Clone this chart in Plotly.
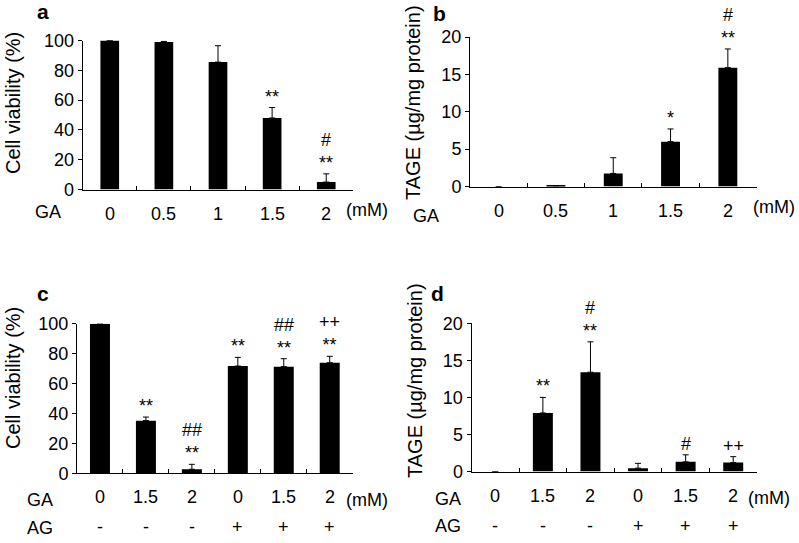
import plotly.graph_objects as go

W, H = 799, 543
FONT = "Liberation Sans, Arial, sans-serif"

# ---------------- data ----------------
ga_ab = ["0", "0.5", "1", "1.5", "2"]
via_a = [100, 99, 85.5, 48, 5]
via_a_err = [0, 0.4, 11, 7, 5.5]
sig_a = ["", "", "", "**", "#<br>**"]

tage_b = [0, 0.1, 1.75, 6.0, 15.9]
tage_b_err = [0, 0, 2.1, 1.7, 2.5]
sig_b = ["", "", "", "*", "#<br>**"]

ga_cd = ["0", "1.5", "2", "0", "1.5", "2"]
ag_cd = ["-", "-", "-", "+", "+", "+"]
via_c = [100, 35.2, 2.7, 71.7, 71.3, 73.9]
via_c_err = [0, 2.4, 3.3, 5.8, 5.3, 4.3]
sig_c = ["", "**", "##<br>**", "**", "##<br>**", "++<br>**"]

tage_d = [0, 7.9, 13.4, 0.45, 1.3, 1.2]
tage_d_err = [0, 2.1, 4.1, 0.65, 0.95, 0.8]
sig_d = ["", "**", "#<br>**", "", "#", "++"]

via_ticks = [0, 20, 40, 60, 80, 100]
tage_ticks = [0, 5, 10, 15, 20]

TICK = 18
SIG = 18


def px(x):
    return x / W


def py(y):
    return 1 - y / H


panels = [
    dict(key="", letter="a", vals=via_a, err=via_a_err, sig=sig_a, ga=ga_ab, ag=None,
         xd=(82.7, 353.3), yd=(189.5, 40.5), yr=100, yt=via_ticks, bw=0.345,
         title="Cell viability (%)", tpos=(13, 103), lpos=(43, 12),
         gapos=(48, 212), mmpos=(390, 210), agpos=None),
    dict(key="2", letter="b", vals=tage_b, err=tage_b_err, sig=sig_b, ga=ga_ab, ag=None,
         xd=(470, 756.5), yd=(186.5, 37), yr=20, yt=tage_ticks, bw=0.33,
         title="TAGE (µg/mg protein)", tpos=(413, 103), lpos=(439, 13),
         gapos=(426, 216), mmpos=(797, 207), agpos=None),
    dict(key="3", letter="c", vals=via_c, err=via_c_err, sig=sig_c, ga=ga_cd, ag=ag_cd,
         xd=(77, 352.7), yd=(473.3, 323.7), yr=100, yt=via_ticks, bw=0.435,
         title="Cell viability (%)", tpos=(13, 378), lpos=(43, 293),
         gapos=(40, 500), mmpos=(390, 500), agpos=(40, 528)),
    dict(key="4", letter="d", vals=tage_d, err=tage_d_err, sig=sig_d, ga=ga_cd, ag=ag_cd,
         xd=(471.5, 757), yd=(471.5, 323.3), yr=20, yt=tage_ticks, bw=0.42,
         title="TAGE (µg/mg protein)", tpos=(415, 380), lpos=(437, 293),
         gapos=(448, 499), mmpos=(792, 498), agpos=(448, 526)),
]

fig = go.Figure()
annotations = []
layout = {}

for p in panels:
    k = p["key"]
    n = len(p["vals"])
    xs = list(range(n))
    fig.add_trace(go.Bar(
        x=xs, y=p["vals"], width=p["bw"],
        marker=dict(color="black", line=dict(width=0)),
        error_y=dict(type="data", array=p["err"], symmetric=False,
                     arrayminus=[0] * n, color="black", thickness=1, width=3),
        xaxis="x" + k, yaxis="y" + k, showlegend=False, hoverinfo="skip",
    ))
    layout["xaxis" + k] = dict(
        domain=[px(p["xd"][0]), px(p["xd"][1])], anchor="y" + k,
        range=[-0.5, n - 0.5], tickvals=[i + 0.5 for i in range(n)],
        ticktext=[""] * n, ticks="inside", ticklen=4, tickcolor="black",
        showline=True, linecolor="black", linewidth=1, showgrid=False,
        zeroline=False, fixedrange=True, automargin=False,
    )
    layout["yaxis" + k] = dict(
        domain=[py(p["yd"][0]), py(p["yd"][1])], anchor="x" + k,
        range=[0, p["yr"]], tickvals=p["yt"], ticks="outside", ticklen=4,
        tickcolor="black", showline=True, linecolor="black", linewidth=1,
        showgrid=False, zeroline=False, fixedrange=True, automargin=False,
        tickfont=dict(family=FONT, size=TICK, color="black"),
    )
    xr, yr = "x" + k, "y" + k
    # category labels
    for i, lab in enumerate(p["ga"]):
        annotations.append(dict(x=i, y=0, xref=xr, yref=yr, text=lab, showarrow=False,
                                yanchor="middle", yshift=-24,
                                font=dict(family=FONT, size=TICK, color="black")))
    if p["ag"]:
        for i, lab in enumerate(p["ag"]):
            annotations.append(dict(x=i, y=0, xref=xr, yref=yr, text=lab, showarrow=False,
                                    yanchor="middle", yshift=-54,
                                    font=dict(family=FONT, size=TICK, color="black")))
    # significance marks
    for i, s in enumerate(p["sig"]):
        if s:
            annotations.append(dict(x=i, y=p["vals"][i] + p["err"][i], xref=xr, yref=yr,
                                    text=s, showarrow=False, yanchor="bottom", yshift=-1,
                                    font=dict(family=FONT, size=SIG, color="black")))
    # texts in paper coords
    annotations.append(dict(x=px(p["gapos"][0]), y=py(p["gapos"][1]), xref="paper", yref="paper",
                            text="GA", showarrow=False, xanchor="center", yanchor="middle",
                            font=dict(family=FONT, size=TICK, color="black")))
    if p["agpos"]:
        annotations.append(dict(x=px(p["agpos"][0]), y=py(p["agpos"][1]), xref="paper", yref="paper",
                                text="AG", showarrow=False, xanchor="center", yanchor="middle",
                                font=dict(family=FONT, size=TICK, color="black")))
    annotations.append(dict(x=px(p["mmpos"][0]), y=py(p["mmpos"][1]), xref="paper", yref="paper",
                            text="(mM)", showarrow=False, xanchor="right", yanchor="middle",
                            font=dict(family=FONT, size=TICK, color="black")))
    annotations.append(dict(x=px(p["lpos"][0]), y=py(p["lpos"][1]), xref="paper", yref="paper",
                            text="<b>" + p["letter"] + "</b>", showarrow=False,
                            xanchor="center", yanchor="middle",
                            font=dict(family=FONT, size=21, color="black")))
    annotations.append(dict(x=px(p["tpos"][0]), y=py(p["tpos"][1]), xref="paper", yref="paper",
                            text=p["title"], showarrow=False, textangle=-90,
                            xanchor="center", yanchor="middle",
                            font=dict(family=FONT, size=20, color="black")))

fig.update_layout(
    width=W, height=H, margin=dict(l=0, r=0, t=0, b=0, pad=0, autoexpand=False),
    paper_bgcolor="white", plot_bgcolor="white",
    annotations=annotations, **layout,
)

fig.write_html(
    "out.html",
    config={"displayModeBar": False},
    post_script="document.body.style.margin='0';document.body.style.overflow='hidden';",
)
